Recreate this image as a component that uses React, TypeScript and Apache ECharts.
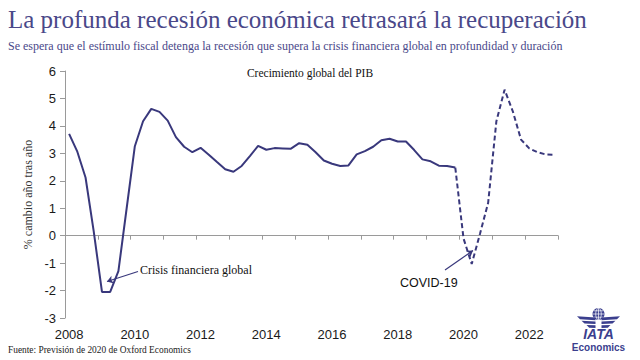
import React, { useEffect, useRef } from "react";
import * as echarts from "echarts";

const years = ["2008", "2009", "2010", "2011", "2012", "2013", "2014", "2015", "2016", "2017", "2018", "2019", "2020", "2021", "2022"];
const quarters = ["T1", "T2", "T3", "T4"];
const categories: string[] = years.flatMap((y) => quarters.map((q) => `${y} ${q}`));

// Crecimiento global del PIB, % a/a (histórico, 2008 T1 – 2019 T4)
const histValues = [
  3.71, 3.06, 2.12, 0.15,
  -2.05, -2.05, -1.29, 0.99,
  3.26, 4.17, 4.62, 4.51,
  4.19, 3.59, 3.24, 3.04,
  3.2, 2.95, 2.68, 2.42,
  2.33, 2.54, 2.9, 3.27,
  3.13, 3.19, 3.18, 3.17,
  3.37, 3.31, 3.04, 2.74,
  2.62, 2.54, 2.56, 2.96,
  3.08, 3.24, 3.48, 3.53,
  3.43, 3.43, 3.12, 2.78,
  2.71, 2.55, 2.54, 2.48,
];
// Previsión (2019 T4 – 2022 T4)
const forecastValues = [2.48, -0.1, -1.03, 0.06, 1.2, 4.17, 5.32, 4.53, 3.5, 3.18, 3.04, 2.96, 2.95];

const TITLE = "La profunda recesión económica retrasará la recuperación";
const SUBTITLE = "Se espera que el estímulo fiscal detenga la recesión que supera la crisis financiera global en profundidad y duración";
const CHART_TITLE = "Crecimiento global del PIB";
const Y_NAME = "% cambio año tras año";
const SOURCE = "Fuente: Previsión de 2020 de Oxford Economics";
const NOTE_GFC = "Crisis financiera global";
const NOTE_COVID = "COVID-19";

const NAVY = "#39387c";
const TITLE_COLOR = "#4a4889";
const LOGO = "#3b3f8e";
const SERIF = "'Liberation Serif', 'DejaVu Serif', serif";
const SANS = "'Liberation Sans', Arial, sans-serif";

export default function App() {
  const ref = useRef<HTMLDivElement>(null);
  useEffect(() => {
    if (!ref.current) return;
    const chart = echarts.init(ref.current, undefined, { renderer: "svg" });
    const n = categories.length;
    const solid = [...histValues, ...new Array(n - histValues.length).fill(null)];
    const dashed = [...new Array(n - forecastValues.length).fill(null), ...forecastValues];

    const cx = 598.5;
    const leftWing = [
      [[cx - 3, 317.6], [cx - 21.5, 316.3], [cx - 18.5, 319.2], [cx - 3, 320.3]],
      [[cx - 3, 321.5], [cx - 17, 320.8], [cx - 14, 323.6], [cx - 3, 324.1]],
      [[cx - 3, 325.3], [cx - 12, 325], [cx - 9.3, 327.7], [cx - 3, 327.9]],
    ];
    const wings: any[] = [];
    leftWing.forEach((pts) => {
      wings.push({ type: "polygon", shape: { points: pts }, style: { fill: LOGO } });
      wings.push({ type: "polygon", shape: { points: pts.map(([x, y]) => [2 * cx - x, y]) }, style: { fill: LOGO } });
    });
    const gy = 314;

    chart.setOption({
      animation: false,
      backgroundColor: "#ffffff",
      grid: { left: 65, right: 82, top: 71, bottom: 42, containLabel: false },
      xAxis: [
        {
          type: "category",
          data: categories,
          boundaryGap: true,
          axisLine: { onZero: true, lineStyle: { color: "#9a9a9a", width: 1 } },
          axisTick: { show: true, length: 4, interval: (i: number) => i % 4 === 0, lineStyle: { color: "#9a9a9a" } },
          axisLabel: { show: false },
          splitLine: { show: false },
        },
        {
          type: "category",
          data: categories,
          boundaryGap: true,
          position: "bottom",
          axisLine: { show: false, onZero: false },
          axisTick: { show: false },
          axisLabel: {
            show: true,
            interval: (i: number) => i % 8 === 0,
            formatter: (v: string) => v.slice(0, 4),
            color: "#1a1a1a",
            fontSize: 13,
            fontFamily: SANS,
            margin: 10,
          },
          splitLine: { show: false },
        },
      ],
      yAxis: {
        type: "value",
        min: -3,
        max: 6,
        interval: 1,
        name: Y_NAME,
        nameLocation: "middle",
        nameRotate: 90,
        nameGap: 28,
        nameTextStyle: { color: "#333333", fontSize: 12, fontFamily: SERIF },
        axisLine: { show: true, lineStyle: { color: "#9a9a9a", width: 1 } },
        axisTick: { show: true, length: 5, lineStyle: { color: "#9a9a9a" } },
        axisLabel: { color: "#1a1a1a", fontSize: 13, fontFamily: SANS, margin: 9 },
        splitLine: { show: false },
      },
      series: [
        {
          type: "line",
          data: solid,
          xAxisIndex: 0,
          showSymbol: false,
          symbol: "none",
          connectNulls: false,
          lineStyle: { color: NAVY, width: 2 },
          markLine: {
            silent: true,
            symbol: ["none", "arrow"],
            symbolSize: 6,
            label: { show: false },
            lineStyle: { color: NAVY, width: 1.2, type: "solid" },
            data: [
              [{ x: 138, y: 271.5 }, { x: 107, y: 281.5 }],
              [{ x: 445, y: 270 }, { x: 473, y: 250.5 }],
            ],
          },
        },
        {
          type: "line",
          data: dashed,
          xAxisIndex: 0,
          showSymbol: false,
          symbol: "none",
          connectNulls: false,
          lineStyle: { color: NAVY, width: 2, type: [5, 3] },
        },
      ],
      graphic: [
        { type: "text", left: 8, top: 7, style: { text: TITLE, font: `25px ${SERIF}`, fill: TITLE_COLOR } },
        { type: "text", left: 8, top: 40, style: { text: SUBTITLE, font: `12px ${SERIF}`, fill: TITLE_COLOR } },
        { type: "text", x: 310, y: 73, style: { text: CHART_TITLE, font: `11.5px ${SERIF}`, fill: "#111111", align: "center", verticalAlign: "middle" } },
        { type: "text", x: 140, y: 270, style: { text: NOTE_GFC, font: `12px ${SERIF}`, fill: "#111111", align: "left", verticalAlign: "middle" } },
        { type: "text", x: 400, y: 283, style: { text: NOTE_COVID, font: `12.5px ${SANS}`, fill: "#111111", align: "left", verticalAlign: "middle" } },
        { type: "text", x: 8, y: 350, style: { text: SOURCE, font: `9.4px ${SERIF}`, fill: "#222222", align: "left", verticalAlign: "middle" } },
        { type: "circle", shape: { cx, cy: gy, r: 6 }, style: { fill: LOGO } },
        { type: "ellipse", shape: { cx, cy: gy, rx: 2.8, ry: 5.8 }, style: { fill: "none", stroke: "#ffffff", lineWidth: 0.7 } },
        { type: "line", shape: { x1: cx, y1: gy - 5.8, x2: cx, y2: gy + 5.8 }, style: { stroke: "#ffffff", lineWidth: 0.7 } },
        { type: "line", shape: { x1: cx - 5.8, y1: gy, x2: cx + 5.8, y2: gy }, style: { stroke: "#ffffff", lineWidth: 0.7 } },
        { type: "line", shape: { x1: cx - 4.8, y1: gy - 3.2, x2: cx + 4.8, y2: gy - 3.2 }, style: { stroke: "#ffffff", lineWidth: 0.7 } },
        { type: "line", shape: { x1: cx - 4.8, y1: gy + 3.2, x2: cx + 4.8, y2: gy + 3.2 }, style: { stroke: "#ffffff", lineWidth: 0.7 } },
        ...wings,
        { type: "text", x: cx, y: 334, style: { text: "IATA", font: `italic bold 14px ${SANS}`, fill: LOGO, align: "center", verticalAlign: "middle" } },
        { type: "text", x: cx, y: 347.5, style: { text: "Economics", font: `bold 10px ${SANS}`, fill: LOGO, align: "center", verticalAlign: "middle" } },
      ],
    });
    return () => chart.dispose();
  }, []);
  return <div ref={ref} style={{ width: 640, height: 360, position: "absolute", left: 0, top: 0 }} />;
}
